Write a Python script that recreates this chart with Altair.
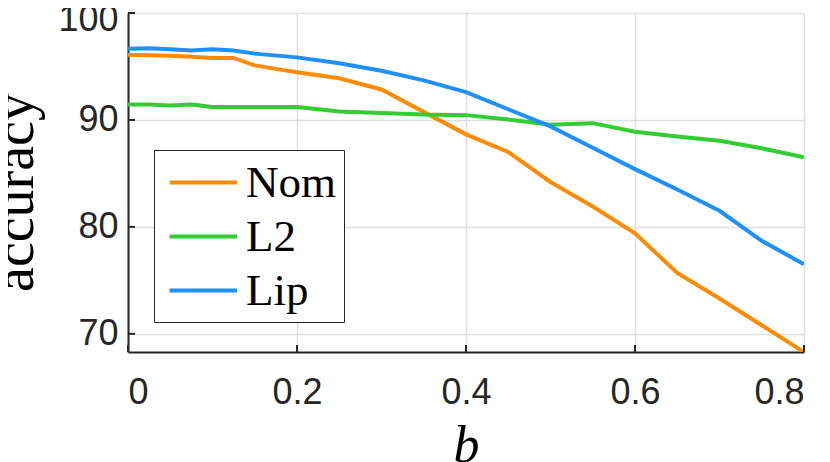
import altair as alt
import pandas as pd

# ---- data ----
b_nom = [0, 0.025, 0.05, 0.075, 0.1, 0.125, 0.15, 0.2, 0.25, 0.3, 0.4, 0.45, 0.5, 0.55, 0.6, 0.65, 0.7, 0.75, 0.8]
nom = [96.1, 96.05, 96.0, 95.9, 95.8, 95.8, 95.1, 94.45, 93.9, 92.85, 88.65, 87.0, 84.2, 81.9, 79.4, 75.7, 73.3, 70.8, 68.3]

b_l2 = [0, 0.025, 0.05, 0.075, 0.1, 0.2, 0.25, 0.3, 0.35, 0.4, 0.45, 0.5, 0.55, 0.6, 0.65, 0.7, 0.75, 0.8]
l2 = [91.45, 91.45, 91.35, 91.45, 91.2, 91.2, 90.8, 90.65, 90.5, 90.45, 90.05, 89.55, 89.7, 88.9, 88.45, 88.05, 87.35, 86.5]

b_lip = [0, 0.025, 0.05, 0.075, 0.1, 0.125, 0.15, 0.2, 0.25, 0.3, 0.35, 0.4, 0.45, 0.5, 0.55, 0.6, 0.65, 0.7, 0.75, 0.8]
lip = [96.65, 96.7, 96.6, 96.5, 96.6, 96.5, 96.2, 95.85, 95.3, 94.6, 93.7, 92.6, 91.0, 89.4, 87.4, 85.4, 83.5, 81.5, 78.7, 76.5]

series = ["Nom", "L2", "Lip"]
colors = ["#FF8C00", "#32CD32", "#1E90FF"]

x_ticks = [0, 0.2, 0.4, 0.6, 0.8]
y_ticks = [70, 80, 90, 100]

rows = []
for name, xs, ys in [("Nom", b_nom, nom), ("L2", b_l2, l2), ("Lip", b_lip, lip)]:
    for i, (xv, yv) in enumerate(zip(xs, ys)):
        rows.append({"b": xv, "acc": yv, "method": name, "order": i})
df = pd.DataFrame(rows)

W, H = 676, 339
AX = "#262626"

xscale = alt.Scale(domain=[0, 0.8], nice=False)
yscale = alt.Scale(domain=[68.3, 100], nice=False)

x_axis = alt.Axis(
    values=x_ticks,
    labelExpr="datum.value == 0 ? '0' : format(datum.value, '.1f')",
    title="b",
    titleFont="Liberation Serif",
    titleFontStyle="italic",
    titleFontWeight="normal",
    titleFontSize=52,
    titleColor="black",
    titlePadding=10,
    labelFont="Liberation Sans",
    labelFontSize=36,
    labelColor=AX,
    labelPadding=23,
    ticks=False,
    domainColor=AX,
    domainWidth=2,
    grid=True,
    gridColor="#e0e0e0",
    gridWidth=1.5,
)
y_axis = alt.Axis(
    values=y_ticks,
    title="accuracy",
    titleFont="Liberation Serif",
    titleFontWeight="normal",
    titleFontSize=56,
    titleColor="black",
    titlePadding=13,
    titleY=179,
    labelFont="Liberation Sans",
    labelFontSize=36,
    labelColor=AX,
    labelPadding=10,
    labelOffset=alt.condition("datum.value == 100", alt.value(6), alt.value(0)),
    ticks=False,
    domainColor=AX,
    domainWidth=2,
    grid=True,
    gridColor="#e0e0e0",
    gridWidth=1.5,
)

lines = alt.Chart(df).mark_line(strokeWidth=4, clip=True).encode(
    x=alt.X("b:Q", scale=xscale, axis=x_axis),
    y=alt.Y("acc:Q", scale=yscale, axis=y_axis),
    color=alt.Color(
        "method:N",
        scale=alt.Scale(domain=series, range=colors),
        sort=series,
        legend=alt.Legend(
            orient="none",
            legendX=26,
            legendY=137,
            title=None,
            symbolType="M-0.75,0H2.25",
            symbolSize=2025,
            symbolStrokeWidth=4,
            labelFont="Liberation Serif",
            labelFontSize=45,
            labelColor="black",
            labelOffset=35,
            labelLimit=400,
            labelExpr="datum.label + '\u00a0\u00a0'",
            rowPadding=6,
            padding=8,
            strokeColor=AX,
            fillColor="white",
        ),
    ),
    order="order:Q",
)

xt = pd.DataFrame({"t": x_ticks})
yt = pd.DataFrame({"t": y_ticks})
xtick = alt.Chart(xt).mark_rule(color=AX, strokeWidth=2).encode(
    x=alt.X("t:Q", scale=xscale), y=alt.value(H), y2=alt.value(H - 7)
)
ytick = alt.Chart(yt).mark_rule(color=AX, strokeWidth=2).encode(
    y=alt.Y("t:Q", scale=yscale), x=alt.value(0), x2=alt.value(7)
)

chart = (
    alt.layer(lines, xtick, ytick)
    .properties(
        width=W,
        height=H,
        autosize=alt.AutoSizeParams(type="none"),
        padding={"left": 120, "top": 5, "right": 18, "bottom": 110},
        background="white",
    )
    .configure_view(stroke=None)
)

chart.save("out.html", embed_options={"renderer": "svg", "actions": False})
